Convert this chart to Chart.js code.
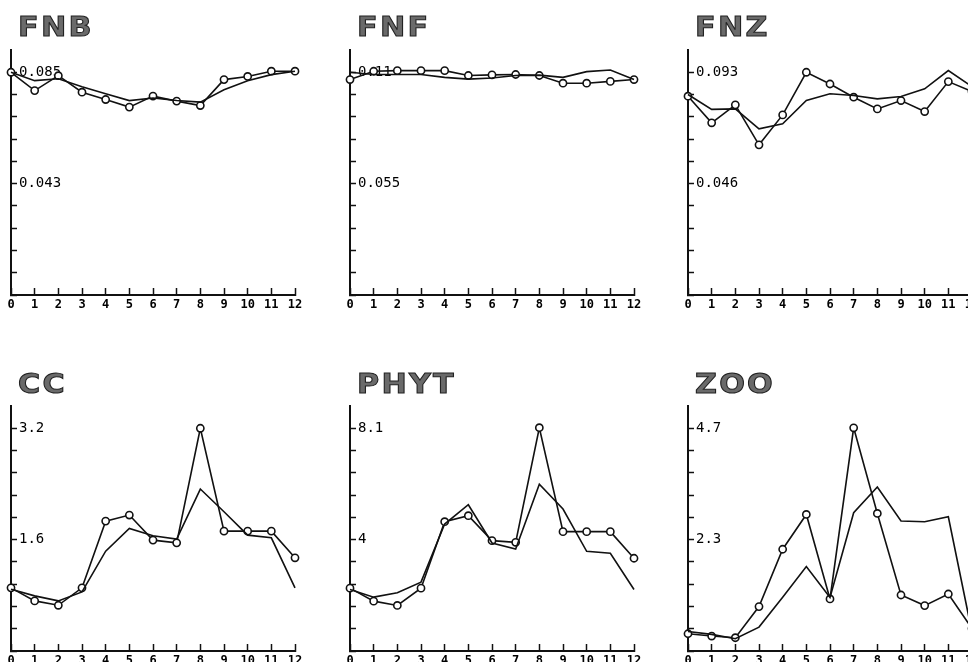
<!DOCTYPE html>
<html>
<head>
<meta charset="utf-8">
<script src="https://cdn.jsdelivr.net/npm/chart.js@4.4.0/dist/chart.umd.min.js"></script>
<style>
  html, body { margin: 0; padding: 0; background: #fff; width: 968px; height: 662px; overflow: hidden; position: relative; }
  canvas { position: absolute; }
  .title {
    position: absolute; z-index: 2;
    font-family: "DejaVu Sans", sans-serif; font-weight: bold; font-size: 27px; line-height: 1;
    color: #6a6a6a; -webkit-text-stroke: 1px #222; letter-spacing: 2px;
    transform-origin: left top; transform: scaleX(1.12);
  }
</style>
</head>
<body>
<script>
// x axis (sampling times 0..12)
const xValues = [0, 1, 2, 3, 4, 5, 6, 7, 8, 9, 10, 11, 12];
const xTickLabels = ['0', '1', '2', '3', '4', '5', '6', '7', '8', '9', '10', '11', '12'];

// FNB
const fnbObs   = [0.0850, 0.0780, 0.0837, 0.0774, 0.0746, 0.0717, 0.0759, 0.0740, 0.0723, 0.0822, 0.0834, 0.0854, 0.0854];
const fnbModel = [0.0850, 0.0818, 0.0825, 0.0795, 0.0768, 0.0742, 0.0752, 0.0742, 0.0736, 0.0783, 0.0818, 0.0841, 0.0854];
const fnbTicks = [0.0425, 0.085];
const fnbTickLabels = ['0.043', '0.085'];

// FNF
const fnfObs   = [0.1064, 0.1105, 0.1108, 0.1108, 0.1108, 0.1084, 0.1087, 0.1089, 0.1084, 0.1046, 0.1046, 0.1055, 0.1064];
const fnfModel = [0.1100, 0.1089, 0.1089, 0.1089, 0.1075, 0.1066, 0.1072, 0.1084, 0.1086, 0.1075, 0.1103, 0.1111, 0.1064];
const fnfTicks = [0.055, 0.11];
const fnfTickLabels = ['0.055', '0.11'];

// FNZ
const fnzObs   = [0.0830, 0.0719, 0.0794, 0.0627, 0.0752, 0.0930, 0.0881, 0.0826, 0.0777, 0.0812, 0.0766, 0.0891, 0.0850];
const fnzModel = [0.0837, 0.0775, 0.0777, 0.0694, 0.0715, 0.0812, 0.0840, 0.0833, 0.0819, 0.0829, 0.0861, 0.0937, 0.0870];
const fnzTicks = [0.0465, 0.093];
const fnzTickLabels = ['0.046', '0.093'];

// CC
const ccObs   = [0.907, 0.720, 0.657, 0.907, 1.866, 1.953, 1.593, 1.554, 3.200, 1.722, 1.722, 1.722, 1.339];
const ccModel = [0.888, 0.792, 0.720, 0.849, 1.434, 1.761, 1.655, 1.607, 2.327, 2.000, 1.665, 1.626, 0.907];
const ccTicks = [1.6, 3.2];
const ccTickLabels = ['1.6', '3.2'];

// PHYT
const phytObs   = [2.285, 1.813, 1.656, 2.285, 4.703, 4.920, 4.014, 3.953, 8.120, 4.340, 4.340, 4.340, 3.373];
const phytModel = [2.237, 1.958, 2.116, 2.503, 4.618, 5.319, 3.929, 3.711, 6.069, 5.162, 3.627, 3.554, 2.237];
const phytTicks = [4.05, 8.1];
const phytTickLabels = ['4', '8.1'];

// ZOO
const zooObs   = [0.364, 0.315, 0.280, 0.937, 2.147, 2.881, 1.098, 4.710, 2.903, 1.182, 0.958, 1.203, 0.476];
const zooModel = [0.413, 0.350, 0.259, 0.504, 1.133, 1.783, 1.130, 2.917, 3.462, 2.742, 2.728, 2.833, 0.390];
const zooTicks = [2.35, 4.7];
const zooTickLabels = ['2.3', '4.7'];

const panels = [
  { name: 'FNB',  col: 0, row: 0, obs: fnbObs,  model: fnbModel,  ticks: fnbTicks,  labels: fnbTickLabels },
  { name: 'FNF',  col: 1, row: 0, obs: fnfObs,  model: fnfModel,  ticks: fnfTicks,  labels: fnfTickLabels },
  { name: 'FNZ',  col: 2, row: 0, obs: fnzObs,  model: fnzModel,  ticks: fnzTicks,  labels: fnzTickLabels },
  { name: 'CC',   col: 0, row: 1, obs: ccObs,   model: ccModel,   ticks: ccTicks,   labels: ccTickLabels },
  { name: 'PHYT', col: 1, row: 1, obs: phytObs, model: phytModel, ticks: phytTicks, labels: phytTickLabels },
  { name: 'ZOO',  col: 2, row: 1, obs: zooObs,  model: zooModel,  ticks: zooTicks,  labels: zooTickLabels }
];

// layout of the grid of panels
const COL_X = [11, 350, 688];
const ROW_BOTTOM = [295, 651];
const TITLE_TOP = [13, 370];
const PLOT_W = 284;
const PLOT_H = 245;
const PAD = 20;
const AXIS_H = 20;
const INK = '#111';

function toPoints(values) {
  return xValues.map((x, i) => ({ x: x, y: values[i] }));
}

panels.forEach(p => {
  const ox = COL_X[p.col];
  const top = ROW_BOTTOM[p.row] - PLOT_H;

  const canvas = document.createElement('canvas');
  canvas.width = PLOT_W + 2 * PAD;
  canvas.height = PLOT_H + 2 * PAD + AXIS_H;
  canvas.style.left = (ox - PAD) + 'px';
  canvas.style.top = (top - PAD) + 'px';
  document.body.appendChild(canvas);

  const title = document.createElement('div');
  title.className = 'title';
  title.textContent = p.name;
  title.style.left = (ox + 7) + 'px';
  title.style.top = TITLE_TOP[p.row] + 'px';
  document.body.appendChild(title);

  // tick marks every tenth of the upper labelled value, labels at 5 and 10
  const step = p.ticks[1] / 10;
  const yTickValues = [];
  for (let i = 0; i <= 10; i++) yTickValues.push(i * step);

  new Chart(canvas.getContext('2d'), {
    type: 'line',
    data: {
      datasets: [
        {
          data: toPoints(p.model),
          borderColor: INK,
          borderWidth: 1.6,
          pointRadius: 0,
          tension: 0,
          clip: false
        },
        {
          data: toPoints(p.obs),
          borderColor: INK,
          borderWidth: 1.6,
          pointRadius: 3.6,
          pointBorderWidth: 1.6,
          pointBackgroundColor: '#fff',
          pointBorderColor: INK,
          tension: 0,
          clip: false
        }
      ]
    },
    options: {
      responsive: false,
      animation: false,
      events: [],
      layout: { padding: { left: PAD, right: PAD, top: PAD, bottom: PAD } },
      plugins: { legend: { display: false }, tooltip: { enabled: false } },
      scales: {
        x: {
          type: 'linear',
          min: 0,
          max: 12,
          afterBuildTicks: s => { s.ticks = xValues.map(v => ({ value: v })); },
          afterFit: s => { s.height = AXIS_H; },
          border: { display: true, color: INK, width: 2 },
          grid: { drawOnChartArea: false, drawTicks: true, tickLength: -7, tickColor: INK, tickWidth: 1.5 },
          ticks: {
            padding: 10,
            maxRotation: 0,
            autoSkip: false,
            color: '#000',
            font: { family: 'DejaVu Sans Mono', size: 12, weight: 'bold' },
            callback: (v, i) => xTickLabels[i]
          }
        },
        y: {
          type: 'linear',
          min: 0,
          max: 11 * step,
          afterBuildTicks: s => { s.ticks = yTickValues.map(v => ({ value: v })); },
          afterFit: s => { s.width = 0; },
          border: { display: true, color: INK, width: 2 },
          grid: { drawOnChartArea: false, drawTicks: true, tickLength: -6, tickColor: INK, tickWidth: 1.5 },
          ticks: {
            mirror: true,
            padding: 8,
            autoSkip: false,
            color: '#000',
            font: { family: 'DejaVu Sans Mono', size: 14 },
            callback: (v, i) => (i === 5 ? p.labels[0] : (i === 10 ? p.labels[1] : ''))
          }
        }
      }
    }
  });
});
</script>
</body>
</html>
